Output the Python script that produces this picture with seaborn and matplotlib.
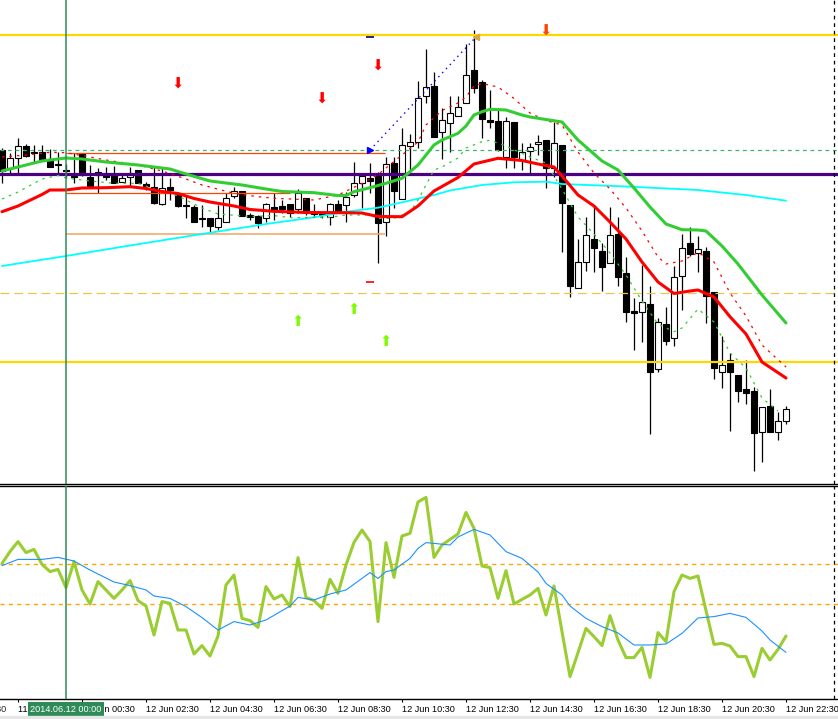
import matplotlib
matplotlib.use("Agg")
import matplotlib.pyplot as plt
from matplotlib.patches import Rectangle
import seaborn as sns

# EURUSD M15, 11 Jun 22:00 -> 12 Jun 22:30 (99 bars)
# prices in points (0.00001) above 1.35000
bar_open = [350, 332, 342, 354, 348, 348, 341, 336, 330, 324,
            347, 323, 325, 325, 325, 318, 323, 330, 316, 313,
            296, 313, 307, 295, 293, 282, 282, 273, 278, 304,
            309, 285, 284, 282, 293, 294, 296, 291, 302, 287,
            286, 283, 296, 295, 305, 317, 322, 324, 278, 337,
            301, 354, 358, 404, 414, 368, 377, 384, 397, 430,
            418, 380, 379, 343, 378, 340, 349, 356, 360, 332,
            355, 295, 212, 238, 261, 249, 237, 266, 227, 189,
            188, 196, 131, 176, 162, 224, 257, 247, 249, 208,
            128, 140, 125, 111, 109, 68, 94, 68, 79]
bar_close = [329, 342, 354, 344, 347, 339, 333, 335, 329, 323,
             325, 314, 328, 323, 317, 322, 327, 317, 314, 297,
             312, 310, 294, 294, 278, 281, 274, 282, 302, 309,
             284, 283, 277, 296, 289, 291, 287, 307, 288, 286,
             285, 296, 288, 303, 317, 324, 319, 277, 336, 309,
             355, 358, 402, 413, 363, 380, 387, 393, 425, 412,
             381, 378, 350, 379, 343, 348, 353, 358, 332, 357,
             297, 214, 238, 265, 252, 233, 265, 223, 188, 187,
             198, 128, 178, 159, 223, 252, 246, 251, 204, 132,
             135, 128, 109, 107, 67, 93, 68, 79, 91]
bar_high = [352, 347, 362, 356, 355, 355, 351, 348, 336, 347,
            347, 335, 332, 333, 334, 327, 333, 330, 318, 333,
            333, 322, 308, 305, 295, 295, 282, 295, 307, 313,
            309, 287, 285, 297, 307, 300, 296, 311, 302, 296,
            288, 297, 300, 308, 338, 327, 337, 328, 343, 343,
            372, 366, 419, 451, 428, 392, 404, 404, 456, 470,
            420, 410, 392, 383, 378, 357, 357, 365, 360, 378,
            355, 295, 261, 283, 295, 257, 293, 283, 243, 202,
            235, 214, 182, 193, 234, 266, 273, 264, 253, 208,
            164, 147, 125, 140, 113, 93, 111, 88, 94]
bar_low = [317, 327, 327, 343, 337, 339, 333, 325, 322, 317,
           324, 314, 307, 320, 317, 318, 314, 317, 310, 296,
           295, 300, 293, 282, 278, 273, 267, 270, 278, 302,
           284, 280, 272, 278, 280, 287, 283, 287, 285, 283,
           282, 275, 287, 278, 303, 292, 307, 237, 264, 292,
           301, 327, 352, 397, 363, 341, 348, 384, 397, 407,
           362, 372, 349, 332, 332, 330, 327, 345, 312, 323,
           248, 203, 212, 229, 228, 209, 237, 214, 178, 150,
           158, 66, 128, 155, 154, 190, 244, 228, 177, 121,
           112, 69, 98, 96, 29, 38, 68, 60, 76]

# moving averages (bar index, value)
ma_green_bar = [0, 2, 5, 8, 10, 13, 17, 21, 23, 26, 30, 33, 35, 39, 42, 43, 44, 46, 48, 50,
                51, 52, 53, 54, 55, 56, 57, 58, 59, 60, 61, 63, 65, 66, 70, 72, 75, 77, 79, 81,
                83, 85, 87, 88, 90, 92, 95, 98]
ma_green_val = [329, 333, 339, 342, 341, 338, 335, 331, 326, 319, 315, 311, 308.5, 307.3, 304.5, 304.5,
                308.3, 312.3, 316.7, 321.7, 328.3, 335, 345, 355, 360, 363.3, 366.7, 374, 385, 388.3,
                390.7, 390, 385, 383, 378, 360, 339, 330, 312, 293, 276, 270.3, 270, 269, 254, 236,
                205, 177]
ma_red_bar = [0, 2, 5, 6, 8, 10, 13, 16, 18, 20, 22, 24, 26, 29, 31, 34, 38, 43, 45, 47,
              50, 52, 54, 57, 59, 62, 65, 67, 69, 70, 72, 74, 76, 78, 80, 82, 84, 86, 87, 89,
              91, 93, 95, 98]
ma_red_val = [288.3, 294, 305.5, 310, 310, 312, 312.3, 313.3, 311.5, 308.5, 306.5, 301.5, 298, 294,
              290.5, 288.7, 287.5, 287.3, 287, 283.5, 283.3, 294, 309, 322.5, 336, 341.7, 339.5, 336,
              333, 324, 305, 294, 278, 261, 238, 218, 206.5, 209, 210, 203, 183.3, 166, 138, 122]
ma_red_fast_bar = [0, 3, 6, 8, 11, 13, 17, 20, 23, 25, 29, 32, 34, 39, 42, 45, 47, 50, 52, 53,
                   55, 57, 58, 59, 60, 62, 64, 66, 68, 70, 72, 74, 76, 78, 80, 82, 83, 85, 87, 89,
                   91, 93, 95, 98]
ma_red_fast_val = [343, 345, 347.7, 347.3, 343, 340, 335, 329, 321, 315, 306.7, 303.3, 301.7, 300,
                   305, 316.5, 325.5, 345, 358, 375, 389.5, 397, 403, 414, 416.5, 413, 401.5, 387,
                   379.5, 375, 348, 327, 311, 292, 269, 243, 236, 239, 247.5, 238, 207, 184, 155, 133]
ma_green_fast_bar = [0, 2, 5, 7, 8, 11, 14, 17, 19, 22, 25, 27, 31, 34, 36, 41, 43, 46, 47, 49,
                     51, 52, 54, 55, 57, 58, 60, 61, 63, 66, 68, 70, 72, 74, 76, 78, 80, 82, 84, 85,
                     87, 89, 91, 93, 95, 97]
ma_green_fast_val = [301, 308, 321, 324.5, 322, 319, 316.7, 316.7, 311, 304, 292, 286, 283.5, 284.5,
                     282.3, 282.7, 285, 285, 281.5, 281.7, 288, 300, 330, 333, 342, 352, 358.3, 359.7,
                     354, 343, 337, 311, 283, 266, 247, 225, 199, 176, 168.3, 172, 191, 178, 147, 132,
                     102, 89]
ma_slow_bar = [0, 8, 16, 25, 33, 39, 43, 47, 51, 54, 56, 60, 64, 68, 70, 78, 87, 93, 98]
ma_slow_val = [234, 244, 254.5, 266, 276, 282.7, 288.3, 292.3, 299.5, 305, 309.5, 315, 317.7, 318.3,
               316, 313.5, 310, 305, 299.3]

# horizontal levels / objects
resist_level = 465
support_level = 138
pivot_level = 326
upper_dash_level = 350
lower_dash_level = 207
box_top, box_mid, box_low = 347, 307, 266
trend_bars = [46, 59.25]
trend_vals = [350, 463]
sell_bars = [22, 40, 47, 68]
sell_vals = [416, 401, 434, 469]
buy_bars = [37, 44, 48]
buy_vals = [178, 190, 159]

# oscillator window
osc_main = [60.3, 66.2, 71.2, 65.7, 67.3, 59.8, 56.2, 57.3, 48.2, 61.2,
            47, 40, 51.2, 47, 42.8, 47, 51.7, 41.7, 39, 24.5,
            41.2, 40.3, 27, 27, 15, 19.2, 14, 24, 49.5, 54.5,
            32.8, 31.7, 28.3, 48.7, 42.5, 44.5, 38.7, 63.2, 43.3, 41.7,
            37.8, 52.3, 45.3, 59.5, 70.8, 77, 71.2, 31.2, 70.7, 53.3,
            74, 75.3, 91, 93.3, 63.3, 69.5, 72.3, 75, 85.8, 77.8,
            59, 58.2, 42.8, 56.7, 40, 42.3, 44.5, 47.8, 34.5, 49,
            26.2, 3.7, 15.7, 27.8, 23.7, 19.2, 34.2, 22, 13.2, 13.2,
            18.3, 3.3, 25.7, 21.2, 46.2, 54.5, 52.8, 54, 36.7, 19.8,
            20.3, 19, 13.7, 13.7, 3.7, 17.8, 12, 17.3, 24]
osc_signal_bar = [0, 2, 5, 7, 9, 11, 14, 16, 18, 19, 21, 23, 25, 27, 29, 31, 33, 36, 37, 39,
                  41, 43, 46, 47, 48, 49, 51, 52, 53, 56, 57, 59, 61, 63, 65, 67, 68, 70, 71, 73,
                  75, 77, 79, 81, 83, 85, 87, 89, 91, 93, 95, 96, 98]
osc_signal_val = [59.2, 62.3, 62.3, 63.3, 61.5, 57, 51, 49.2, 47, 44, 42.8, 38.7, 33.2, 27, 31.2,
                  29.5, 32, 39, 43.3, 42, 45, 47, 55.7, 52.8, 56.2, 57, 62.8, 67.8, 70.7, 69.5,
                  73.5, 77.3, 74.5, 66.2, 62.8, 56, 50.3, 44.5, 39, 32.8, 28.7, 25.5, 19.5, 19.5,
                  20, 25.3, 33, 33.7, 35.3, 33.3, 26.5, 22, 15.8]
osc_levels = [60, 40]

tick_bars = [2, 10, 18, 26, 34, 42, 50, 58, 66, 74, 82, 90, 98]
tick_labels = ["11 Jun 22:30", "12 Jun 00:30", "12 Jun 02:30", "12 Jun 04:30", "12 Jun 06:30",
               "12 Jun 08:30", "12 Jun 10:30", "12 Jun 12:30", "12 Jun 14:30", "12 Jun 16:30",
               "12 Jun 18:30", "12 Jun 20:30", "12 Jun 22:30"]
day_bar = 8
day_label = "2014.06.12 00:00"
shift_bar = 104

sns.set_theme(style="white", rc={"axes.edgecolor": "black"})
plt.rcParams["font.family"] = ["Liberation Sans", "DejaVu Sans"]

fig = plt.figure(figsize=(8.38, 7.19), dpi=100)
ax = fig.add_axes([0, 1 - 484 / 719, 1, 484 / 719])
ax2 = fig.add_axes([0, 20 / 719, 1, 213 / 719])

bars = list(range(len(bar_open)))

# candles
ax.vlines(bars, bar_low, bar_high, color="black", lw=0.9, zorder=2)
for i in bars:
    o, c = bar_open[i], bar_close[i]
    ax.bar(i, max(abs(c - o), 1), bottom=min(o, c), width=0.7,
           color="white" if c > o else "black", edgecolor="black", lw=0.8, zorder=2.5)

# levels
ax.axhline(resist_level, color="#FFD700", lw=1.6, zorder=3)
ax.axhline(support_level, color="#FFD700", lw=1.6, zorder=3)
ax.axhline(pivot_level, color="#4B0082", lw=2.3, zorder=3)
ax.axhline(upper_dash_level, color="#3CB371", lw=0.9, ls=(0, (3, 3)), zorder=3)
ax.axhline(lower_dash_level, color="#E9C54A", lw=0.9, ls=(0, (7, 4)), zorder=3)
ax.hlines(box_top, day_bar, 47.9, color="#FF4500", lw=0.9, zorder=3)
ax.hlines(box_mid, day_bar, 36, color="#FF4500", lw=0.9, zorder=3)
ax.hlines(box_low, day_bar, 47.9, color="#F4A460", lw=1.1, zorder=3)

# moving averages
sns.lineplot(x=ma_slow_bar, y=ma_slow_val, ax=ax, color="#00FFFF", lw=1.3, errorbar=None, zorder=4)
sns.lineplot(x=ma_green_fast_bar, y=ma_green_fast_val, ax=ax, color="#32CD32", lw=0.9,
             linestyle=(0, (2, 4)), errorbar=None, zorder=4)
sns.lineplot(x=ma_red_fast_bar, y=ma_red_fast_val, ax=ax, color="red", lw=0.9,
             linestyle=(0, (2, 4)), errorbar=None, zorder=4)
sns.lineplot(x=ma_green_bar, y=ma_green_val, ax=ax, color="#32CD32", lw=2.2, errorbar=None, zorder=4)
sns.lineplot(x=ma_red_bar, y=ma_red_val, ax=ax, color="red", lw=2.2, errorbar=None, zorder=4)

# trend line and signals
ax.plot(trend_bars, trend_vals, color="blue", lw=1, ls=(0, (1, 3)), zorder=5)
ax.plot(trend_bars[0], trend_vals[0], marker=">", color="blue", ms=5, zorder=5)
ax.plot(trend_bars[1], trend_vals[1], marker="<", color="#D4A843", ms=5, zorder=5)
ax.plot(46, 463, marker="_", color="navy", ms=6, mew=1.2, zorder=5)
ax.plot(46, 218, marker="_", color="red", ms=6, mew=1.2, zorder=5)
for b, v in zip(sell_bars, sell_vals):
    ax.text(b, v, "⬇", color="#FF4500" if v > 460 else "red", fontsize=10.5,
            family="DejaVu Sans", ha="center", va="center", zorder=6)
for b, v in zip(buy_bars, buy_vals):
    ax.text(b, v, "⬆", color="#7CFC00", fontsize=10.5,
            family="DejaVu Sans", ha="center", va="center", zorder=6)

# oscillator
for lv in osc_levels:
    ax2.axhline(lv, color="#FFA500", lw=1, ls=(0, (3, 3)), zorder=2)
sns.lineplot(x=bars, y=osc_main, ax=ax2, color="#9ACD32", lw=2.2, errorbar=None, zorder=3)
sns.lineplot(x=osc_signal_bar, y=osc_signal_val, ax=ax2, color="#1E90FF", lw=0.8, errorbar=None, zorder=4)

for a in (ax, ax2):
    a.axvline(day_bar, color="#2E8B57", lw=1.1, zorder=5)
    a.axvline(shift_bar, color="black", lw=0.9, ls=(0, (3, 3)), zorder=5)
    a.set_xlim(-0.25, 104.5)
    a.set_ylabel("")
    a.set_xlabel("")
    a.set_yticks([])
    for s in ("left", "right", "top"):
        a.spines[s].set_visible(False)
    a.spines["bottom"].set_linewidth(1)

ax.set_ylim(16, 500)
ax.set_xticks([])
ax2.set_ylim(-7.5, 99)
ax2.spines["top"].set_visible(True)
ax2.spines["top"].set_linewidth(1)

ax2.set_xticks(tick_bars)
ax2.set_xticklabels(tick_labels, ha="left", fontsize=6.6, color="black")
ax2.tick_params(axis="x", bottom=True, direction="out", length=2.5, width=0.8, pad=1.5, colors="black")
ax2.annotate("11 Jun 20:30", xy=(-6, 0), xycoords=("data", "axes fraction"),
             xytext=(0, -4), textcoords="offset points", ha="left", va="top", fontsize=6.6,
             annotation_clip=False)
ax2.annotate(day_label, xy=(day_bar, 0), xycoords=("data", "axes fraction"),
             xytext=(0, -4), textcoords="offset points", ha="center", va="top", fontsize=6.6,
             color="white", zorder=10, annotation_clip=False,
             bbox=dict(boxstyle="square,pad=0.3", fc="#2E8B57", ec="none"))

fig.add_artist(Rectangle((0, 0), 1, 3 / 719, transform=fig.transFigure, color="#E6E6E6"))

fig.savefig("out.png", dpi=100)
